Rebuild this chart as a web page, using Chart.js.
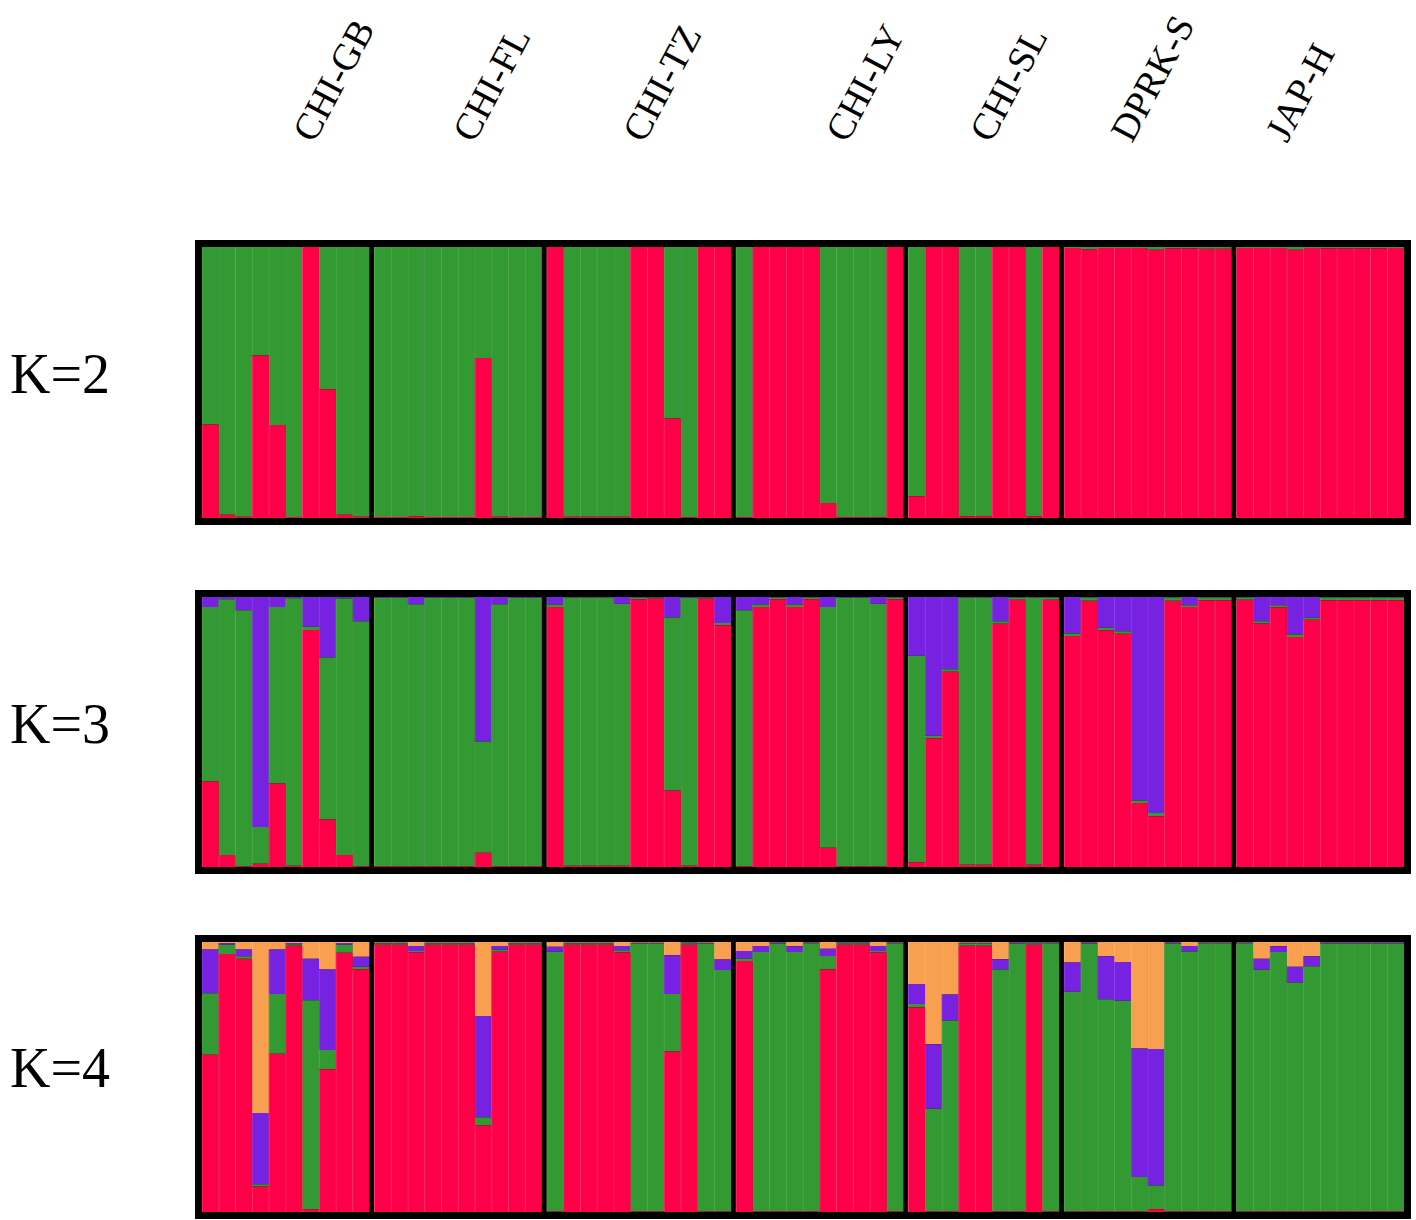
<!DOCTYPE html>
<html>
<head>
<meta charset="utf-8">
<script src="https://cdn.jsdelivr.net/npm/chart.js@4.4.1/dist/chart.umd.min.js"></script>
<style>
  body { margin:0; background:#fff; width:1416px; height:1220px; position:relative; overflow:hidden;
         font-family:"Liberation Serif","Times New Roman",serif; color:#000; }
  .panel { position:absolute; left:195px; }
  .klabel { position:absolute; left:10px; font-size:56px; line-height:56px; white-space:nowrap; }
  .pop { position:absolute; top:144px; width:0; height:0; transform:rotate(-62deg); transform-origin:0 0; }
  .pop span { position:absolute; left:0; bottom:-6px; font-size:38px; line-height:38px; white-space:nowrap; }
</style>
</head>
<body>
<div class="panel" style="top:240px"><canvas id="k2" width="1216" height="285"></canvas></div>
<div class="panel" style="top:590px"><canvas id="k3" width="1216" height="284"></canvas></div>
<div class="panel" style="top:935px"><canvas id="k4" width="1216" height="284"></canvas></div>
<div id="labels"></div>
<script>
// --- populations ---
const popNames = ['CHI-GB', 'CHI-FL', 'CHI-TZ', 'CHI-LY', 'CHI-SL', 'DPRK-S', 'JAP-H'];
const popSizes = [10, 10, 11, 10, 9, 10, 10];
const kLabels = ['K=2', 'K=3', 'K=4'];

// --- K=2 membership (one line per population) ---
const k2Red = [
  0.345, 0.012, 0.005, 0.600, 0.343, 0.004, 1.000, 0.475, 0.012, 0.005,
  0.004, 0.004, 0.006, 0.004, 0.004, 0.004, 0.590, 0.005, 0.004, 0.004,
  1.000, 0.005, 0.005, 0.005, 0.005, 1.000, 1.000, 0.367, 0.003, 1.000, 1.000,
  0.003, 1.000, 1.000, 1.000, 1.000, 0.055, 0.003, 0.003, 0.003, 1.000,
  0.080, 1.000, 1.000, 0.006, 0.006, 1.000, 1.000, 0.006, 1.000,
  0.996, 0.992, 0.996, 0.996, 0.996, 0.990, 0.995, 0.995, 0.994, 0.994,
  0.996, 0.996, 0.996, 0.990, 0.996, 0.995, 0.995, 0.995, 0.995, 0.996
];
const k2Green = [
  0.655, 0.988, 0.995, 0.400, 0.657, 0.996, 0.000, 0.525, 0.988, 0.995,
  0.996, 0.996, 0.994, 0.996, 0.996, 0.996, 0.410, 0.995, 0.996, 0.996,
  0.000, 0.995, 0.995, 0.995, 0.995, 0.000, 0.000, 0.633, 0.997, 0.000, 0.000,
  0.997, 0.000, 0.000, 0.000, 0.000, 0.945, 0.997, 0.997, 0.997, 0.000,
  0.920, 0.000, 0.000, 0.994, 0.994, 0.000, 0.000, 0.994, 0.000,
  0.004, 0.008, 0.004, 0.004, 0.004, 0.010, 0.005, 0.005, 0.006, 0.006,
  0.004, 0.004, 0.004, 0.010, 0.004, 0.005, 0.005, 0.005, 0.005, 0.004
];

// --- K=3 membership ---
const k3Red = [
  0.317, 0.044, 0.003, 0.012, 0.309, 0.005, 0.878, 0.176, 0.044, 0.003,
  0.003, 0.003, 0.003, 0.003, 0.003, 0.003, 0.053, 0.003, 0.003, 0.003,
  0.963, 0.005, 0.005, 0.005, 0.005, 0.992, 0.994, 0.283, 0.005, 0.994, 0.895,
  0.003, 0.963, 0.992, 0.963, 0.992, 0.071, 0.003, 0.003, 0.003, 0.992,
  0.018, 0.477, 0.723, 0.008, 0.008, 0.901, 0.990, 0.008, 0.990,
  0.856, 0.986, 0.877, 0.864, 0.237, 0.188, 0.986, 0.963, 0.988, 0.988,
  0.990, 0.902, 0.962, 0.852, 0.916, 0.988, 0.988, 0.988, 0.988, 0.988
];
const k3Green = [
  0.646, 0.948, 0.948, 0.136, 0.654, 0.990, 0.012, 0.600, 0.950, 0.907,
  0.994, 0.994, 0.970, 0.994, 0.994, 0.994, 0.412, 0.970, 0.994, 0.994,
  0.009, 0.993, 0.993, 0.993, 0.970, 0.006, 0.004, 0.641, 0.992, 0.004, 0.009,
  0.948, 0.009, 0.006, 0.009, 0.006, 0.892, 0.994, 0.994, 0.972, 0.006,
  0.764, 0.009, 0.009, 0.990, 0.990, 0.009, 0.008, 0.990, 0.008,
  0.009, 0.012, 0.009, 0.009, 0.009, 0.012, 0.012, 0.006, 0.010, 0.010,
  0.008, 0.008, 0.007, 0.009, 0.007, 0.010, 0.010, 0.010, 0.010, 0.010
];
const k3Purple = [
  0.037, 0.008, 0.049, 0.852, 0.037, 0.005, 0.110, 0.224, 0.006, 0.090,
  0.003, 0.003, 0.027, 0.003, 0.003, 0.003, 0.535, 0.027, 0.003, 0.003,
  0.028, 0.002, 0.002, 0.002, 0.025, 0.002, 0.002, 0.076, 0.003, 0.002, 0.096,
  0.049, 0.028, 0.002, 0.028, 0.002, 0.037, 0.003, 0.003, 0.025, 0.002,
  0.218, 0.514, 0.268, 0.002, 0.002, 0.090, 0.002, 0.002, 0.002,
  0.135, 0.002, 0.114, 0.127, 0.754, 0.800, 0.002, 0.031, 0.002, 0.002,
  0.002, 0.090, 0.031, 0.139, 0.077, 0.002, 0.002, 0.002, 0.002, 0.002
];

// --- K=4 membership ---
const k4Red = [
  0.582, 0.956, 0.938, 0.094, 0.586, 0.986, 0.009, 0.529, 0.960, 0.899,
  0.990, 0.990, 0.962, 0.990, 0.990, 0.990, 0.320, 0.964, 0.990, 0.990,
  0.002, 0.990, 0.990, 0.990, 0.962, 0.002, 0.002, 0.594, 0.990, 0.002, 0.002,
  0.930, 0.002, 0.002, 0.002, 0.002, 0.898, 0.990, 0.990, 0.961, 0.002,
  0.758, 0.002, 0.002, 0.986, 0.986, 0.002, 0.002, 0.990, 0.002,
  0.002, 0.002, 0.002, 0.002, 0.002, 0.010, 0.002, 0.002, 0.002, 0.002,
  0.002, 0.002, 0.002, 0.002, 0.002, 0.002, 0.002, 0.002, 0.002, 0.002
];
const k4Green = [
  0.228, 0.034, 0.009, 0.009, 0.221, 0.006, 0.775, 0.071, 0.030, 0.009,
  0.004, 0.004, 0.005, 0.004, 0.004, 0.004, 0.031, 0.007, 0.004, 0.004,
  0.962, 0.004, 0.004, 0.004, 0.007, 0.992, 0.992, 0.213, 0.005, 0.992, 0.894,
  0.009, 0.961, 0.992, 0.961, 0.993, 0.050, 0.005, 0.005, 0.006, 0.993,
  0.012, 0.380, 0.707, 0.008, 0.008, 0.896, 0.992, 0.005, 0.993,
  0.814, 0.992, 0.786, 0.780, 0.128, 0.088, 0.992, 0.963, 0.993, 0.993,
  0.993, 0.895, 0.961, 0.848, 0.908, 0.992, 0.992, 0.992, 0.992, 0.992
];
const k4Purple = [
  0.162, 0.005, 0.025, 0.264, 0.165, 0.004, 0.154, 0.298, 0.006, 0.037,
  0.003, 0.003, 0.018, 0.003, 0.003, 0.003, 0.375, 0.014, 0.003, 0.003,
  0.018, 0.003, 0.003, 0.003, 0.016, 0.003, 0.003, 0.144, 0.003, 0.003, 0.039,
  0.028, 0.022, 0.004, 0.021, 0.003, 0.027, 0.003, 0.003, 0.018, 0.003,
  0.074, 0.239, 0.097, 0.003, 0.003, 0.038, 0.004, 0.003, 0.003,
  0.108, 0.004, 0.159, 0.144, 0.476, 0.506, 0.004, 0.020, 0.003, 0.003,
  0.003, 0.041, 0.021, 0.058, 0.037, 0.004, 0.004, 0.004, 0.004, 0.004
];
const k4Orange = [
  0.028, 0.005, 0.028, 0.633, 0.028, 0.004, 0.062, 0.102, 0.004, 0.055,
  0.003, 0.003, 0.015, 0.003, 0.003, 0.003, 0.274, 0.015, 0.003, 0.003,
  0.018, 0.003, 0.003, 0.003, 0.015, 0.003, 0.003, 0.049, 0.002, 0.003, 0.065,
  0.033, 0.015, 0.002, 0.016, 0.002, 0.025, 0.002, 0.002, 0.015, 0.002,
  0.156, 0.379, 0.194, 0.003, 0.003, 0.064, 0.002, 0.002, 0.002,
  0.076, 0.002, 0.053, 0.074, 0.394, 0.396, 0.002, 0.015, 0.002, 0.002,
  0.002, 0.062, 0.016, 0.092, 0.053, 0.002, 0.002, 0.002, 0.002, 0.002
];

// colours: fill + slightly lighter line between individuals
const RED = ['#ff0048', '#ff3a72'];
const GREEN = ['#339933', '#52ad4e'];
const PURPLE = ['#7722e0', '#8d42e8'];
const ORANGE = ['#f9a050', '#fcb474'];

const POP_GAP = 0.3;                 // black separator, in bar widths
const popLabelX = [314, 474, 644, 847, 991, 1132, 1287];
const kLabelTop = [346, 696, 1040];

// x position of every individual, leaving a gap between populations
const xPos = [];
popSizes.forEach((n, p) => {
  for (let i = 0; i < n; i++) xPos.push(xPos.length + p * POP_GAP);
});

const blackBox = {
  id: 'blackBox',
  beforeDraw(chart) {
    const c = chart.ctx;
    c.save();
    c.fillStyle = '#000';
    c.fillRect(0, 0, chart.width, chart.height);
    c.restore();
  }
};

function makeChart(id, series) {
  return new Chart(document.getElementById(id), {
    type: 'bar',
    data: {
      datasets: series.map(s => ({
        data: s.values.map((v, i) => ({ x: xPos[i], y: v })),
        backgroundColor: s.colors[0],
        borderColor: s.colors[1],
        borderWidth: { left: 1, right: 0, top: 0, bottom: 0 },
        borderSkipped: false,
        inflateAmount: 0.5,
        categoryPercentage: 1,
        barPercentage: 1
      }))
    },
    options: {
      responsive: false,
      animation: false,
      devicePixelRatio: 1,
      layout: { padding: 7 },
      plugins: { legend: { display: false }, tooltip: { enabled: false } },
      scales: {
        x: {
          type: 'linear', stacked: true, display: false, offset: false,
          min: -0.5, max: xPos[xPos.length - 1] + 0.5,
          ticks: { includeBounds: false }, grid: { display: false, offset: false }
        },
        y: { stacked: true, display: false, min: 0, max: 1 }
      }
    },
    plugins: [blackBox]
  });
}

makeChart('k2', [
  { values: k2Red, colors: RED },
  { values: k2Green, colors: GREEN }
]);
makeChart('k3', [
  { values: k3Red, colors: RED },
  { values: k3Green, colors: GREEN },
  { values: k3Purple, colors: PURPLE }
]);
makeChart('k4', [
  { values: k4Red, colors: RED },
  { values: k4Green, colors: GREEN },
  { values: k4Purple, colors: PURPLE },
  { values: k4Orange, colors: ORANGE }
]);

// text labels
const labels = document.getElementById('labels');
popNames.forEach((name, i) => {
  const d = document.createElement('div');
  d.className = 'pop';
  d.style.left = popLabelX[i] + 'px';
  const s = document.createElement('span');
  s.textContent = name;
  d.appendChild(s);
  labels.appendChild(d);
});
kLabels.forEach((t, i) => {
  const d = document.createElement('div');
  d.className = 'klabel';
  d.style.top = kLabelTop[i] + 'px';
  d.textContent = t;
  labels.appendChild(d);
});
</script>
</body>
</html>
